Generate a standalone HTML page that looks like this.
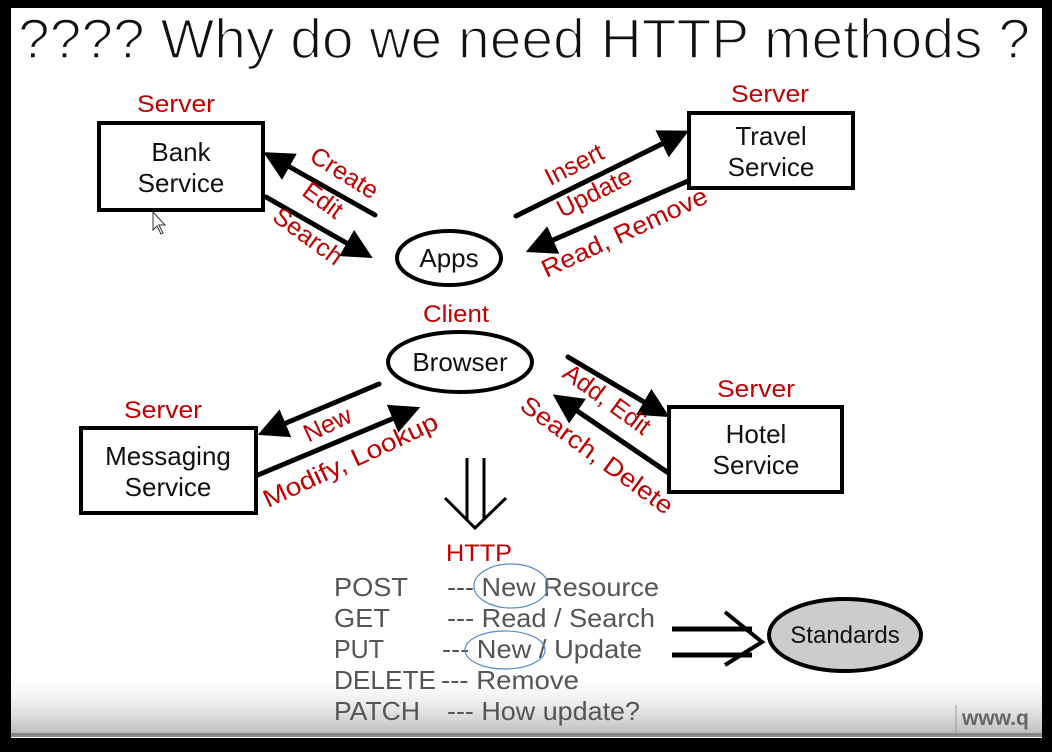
<!DOCTYPE html>
<html><head><meta charset="utf-8"><style>
html,body{margin:0;padding:0;background:#000;}
svg{display:block;}
</style></head><body>
<svg width="1052" height="752" viewBox="0 0 1052 752" xmlns="http://www.w3.org/2000/svg" font-family="Liberation Sans, sans-serif">
<defs>
<linearGradient id="g" x1="0" y1="0" x2="0" y2="1">
<stop offset="0" stop-color="#fff" stop-opacity="0"/>
<stop offset="1" stop-color="#bbb" stop-opacity="1"/>
</linearGradient>
<marker id="ah" markerWidth="6" markerHeight="6" refX="4" refY="3" orient="auto" markerUnits="strokeWidth">
<path d="M0,0 L6,3 L0,6 z" fill="#000"/>
</marker>
</defs>
<rect x="0" y="0" width="1052" height="752" fill="#000"/>
<rect x="11" y="8" width="1031" height="730" fill="#fff"/>
<rect x="11" y="670" width="1031" height="64" fill="url(#g)"/>
<rect x="11" y="733" width="1031" height="4" fill="#888"/>

<text x="18" y="58" font-size="56" fill="#111" stroke="#fff" stroke-width="1.6" textLength="1012" lengthAdjust="spacingAndGlyphs">???? Why do we need HTTP methods ?</text>

<g fill="#c00000" font-size="24" text-anchor="middle">
<text x="176" y="112" textLength="78" lengthAdjust="spacingAndGlyphs">Server</text>
<text x="770" y="102" textLength="78" lengthAdjust="spacingAndGlyphs">Server</text>
<text x="456" y="322" textLength="66" lengthAdjust="spacingAndGlyphs">Client</text>
<text x="163" y="418" textLength="78" lengthAdjust="spacingAndGlyphs">Server</text>
<text x="756" y="397" textLength="78" lengthAdjust="spacingAndGlyphs">Server</text>
<text x="479" y="561" textLength="66" lengthAdjust="spacingAndGlyphs">HTTP</text>
</g>

<g fill="none" stroke="#000" stroke-width="4">
<rect x="99" y="123" width="164" height="87"/>
<rect x="689" y="113" width="164" height="75"/>
<rect x="81" y="428" width="175" height="85"/>
<rect x="669" y="407" width="173" height="85"/>
<ellipse cx="449" cy="258" rx="52" ry="27"/>
<ellipse cx="460" cy="362" rx="72" ry="30"/>
</g>
<ellipse cx="845" cy="635" rx="76" ry="36" fill="#ccc" stroke="#000" stroke-width="4"/>

<g fill="#111" font-size="26" text-anchor="middle">
<text x="181" y="161">Bank</text>
<text x="181" y="192">Service</text>
<text x="771" y="145">Travel</text>
<text x="771" y="176">Service</text>
<text x="168" y="465">Messaging</text>
<text x="168" y="496">Service</text>
<text x="756" y="443">Hotel</text>
<text x="756" y="474">Service</text>
<text x="449" y="267">Apps</text>
<text x="460" y="371">Browser</text>
<text x="845" y="643" font-size="24">Standards</text>
</g>

<g stroke="#000" stroke-width="5" stroke-linecap="round" marker-end="url(#ah)">
<line x1="375" y1="215" x2="272" y2="157"/>
<line x1="266" y1="197" x2="364" y2="253"/>
<line x1="516" y1="216" x2="680" y2="135"/>
<line x1="688" y1="181" x2="535" y2="248"/>
<line x1="379" y1="384" x2="267" y2="431"/>
<line x1="258" y1="475" x2="411" y2="411"/>
<line x1="568" y1="357" x2="661" y2="412"/>
<line x1="667" y1="472" x2="561" y2="400"/>
</g>

<g fill="#c00000" font-size="25" text-anchor="middle">
<text transform="translate(340,180) rotate(32)">Create</text>
<text transform="translate(318,207) rotate(36)">Edit</text>
<text transform="translate(303,243) rotate(36)">Search</text>
<text transform="translate(578,172) rotate(-27)">Insert</text>
<text transform="translate(598,200) rotate(-27)">Update</text>
<text transform="translate(628,240) rotate(-25)" textLength="180" lengthAdjust="spacingAndGlyphs">Read, Remove</text>
<text transform="translate(331,432) rotate(-25)">New</text>
<text transform="translate(354,468) rotate(-25)" textLength="190" lengthAdjust="spacingAndGlyphs">Modify, Lookup</text>
<text transform="translate(602,406) rotate(36)">Add, Edit</text>
<text transform="translate(592,462) rotate(36)" textLength="182" lengthAdjust="spacingAndGlyphs">Search, Delete</text>
</g>

<g stroke="#000" stroke-width="3" fill="none">
<line x1="467" y1="458" x2="467" y2="520"/>
<line x1="484" y1="458" x2="484" y2="520"/>
<polyline points="445,498 475,528 506,498"/>
</g>
<g stroke="#000" stroke-width="5" fill="none">
<line x1="672" y1="629" x2="752" y2="629"/>
<line x1="672" y1="655" x2="752" y2="655"/>
<polyline points="725,612 762,642 725,665" stroke-width="4"/>
</g>

<g fill="#555" font-size="26">
<text x="334" y="596" textLength="74" lengthAdjust="spacingAndGlyphs">POST</text>
<text x="334" y="627" textLength="56" lengthAdjust="spacingAndGlyphs">GET</text>
<text x="334" y="658" textLength="50" lengthAdjust="spacingAndGlyphs">PUT</text>
<text x="334" y="689" textLength="102" lengthAdjust="spacingAndGlyphs">DELETE</text>
<text x="334" y="720" textLength="86" lengthAdjust="spacingAndGlyphs">PATCH</text>
<text x="447" y="596" textLength="212" lengthAdjust="spacingAndGlyphs">--- New Resource</text>
<text x="447" y="627" textLength="208" lengthAdjust="spacingAndGlyphs">--- Read / Search</text>
<text x="442" y="658" textLength="200" lengthAdjust="spacingAndGlyphs">--- New / Update</text>
<text x="441" y="689" textLength="138" lengthAdjust="spacingAndGlyphs">--- Remove</text>
<text x="447" y="720" textLength="193" lengthAdjust="spacingAndGlyphs">--- How update?</text>
</g>
<g fill="none" stroke="#5a8bc8" stroke-width="1.2">
<ellipse cx="511" cy="586" rx="37" ry="22"/>
<ellipse cx="505" cy="650" rx="40" ry="19"/>
</g>

<line x1="956" y1="705" x2="956" y2="733" stroke="#999" stroke-width="1"/>
<text x="962" y="725" font-size="21" font-weight="bold" fill="#666">www.q</text>

<path d="M153,212 L153,230 L157,226 L161,234 L163,233 L159,225 L165,225 Z" fill="#fff" stroke="#333" stroke-width="1"/>
</svg>
</body></html>
